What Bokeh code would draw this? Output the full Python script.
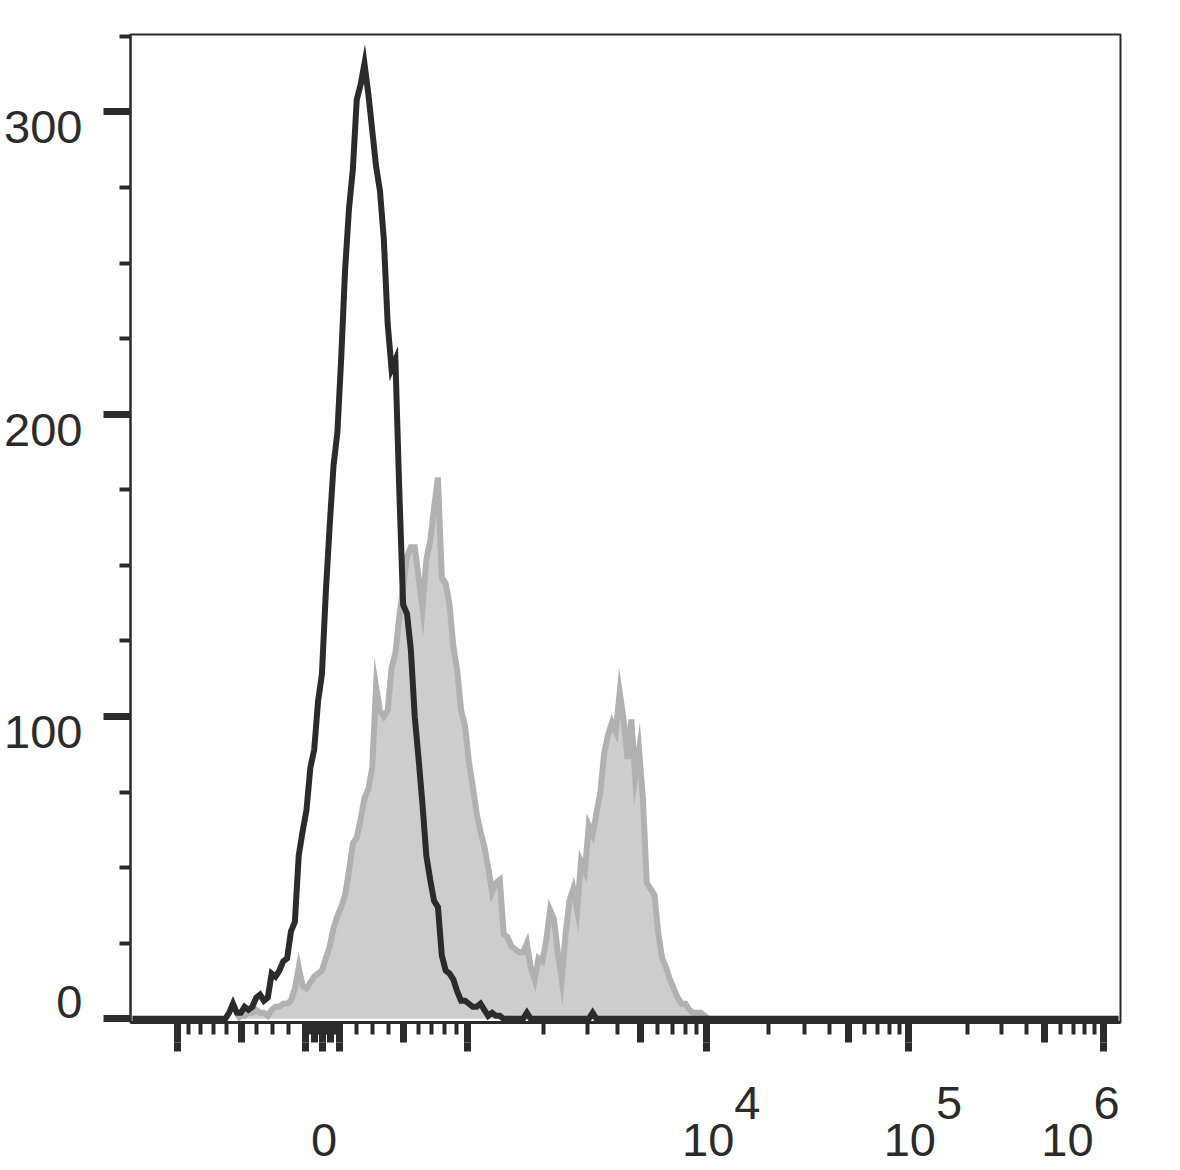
import numpy as np
from bokeh.plotting import figure
from bokeh.models import LinearAxis, FixedTicker, Range1d, CustomJSTickFormatter
from bokeh.embed import file_html
from bokeh.resources import INLINE

# ---------------- data ----------------
n_channels = 256

# control histogram (black line), counts per channel
black_first_channel = 24
black_counts = [0, 2, 5, 2, 2, 4, 3, 4, 7, 8, 6, 7, 15, 14, 16, 19, 20, 29, 32, 54,
                62, 69, 83, 89, 105, 114, 141, 163, 183, 194, 219, 248, 268, 281, 304, 309,
                316, 306, 294, 282, 274, 258, 230, 215, 218, 175, 137, 134, 122, 100,
                86, 71, 54, 46, 39, 37, 21, 16, 15, 13, 9, 6, 6, 5, 4, 4, 5, 3, 1, 2,
                1, 1, 0, 0, 0, 0, 0, 0, 2, 0, 0, 0, 0, 0, 0, 0, 0, 0, 0, 0, 0, 0, 0, 0,
                0, 2, 0]

# stained histogram (grey filled), counts per channel
gray_first_channel = 27
gray_counts = [0, 1, 1, 2, 2, 3, 2, 2, 1, 3, 4, 4, 5, 5, 6, 10, 17, 11, 10, 12,
               14, 15, 16, 20, 24, 30, 34, 37, 41, 49, 58, 60, 66, 73, 76, 83, 110, 102, 100, 102,
               116, 121, 133, 143, 153, 156, 156, 146, 136, 152, 158, 169, 179, 146, 144, 137, 123, 115, 102, 97,
               85, 77, 68, 62, 57, 50, 42, 45, 46, 28, 27, 24, 23, 22, 22, 25, 17, 13, 20, 19,
               26, 36, 33, 22, 13, 28, 39, 43, 36, 52, 49, 64, 61, 68, 75, 88, 94, 98, 95, 108,
               99, 86, 99, 80, 89, 73, 45, 43, 41, 28, 20, 17, 13, 10, 7, 5, 5, 3, 2, 2,
               2, 1, 0]

# axis ticks and labels
y_tick_values = [0, 100, 200, 300]
y_tick_labels = ["0", "100", "200", "300"]
y_minor_values = [25, 50, 75, 125, 150, 175, 225, 250, 275, 325]

x_major_values = [-1000, -100, 0, 100, 1000, 1e4, 1e5, 1e6]
x_medium_values = [-500, -50, 50, 500, 5000, 5e4, 5e5]
x_minor_values = ([-k * 100 for k in (9, 8, 7, 6, 4, 3, 2)] + [-k * 10 for k in (9, 8, 7, 6, 4, 3, 2, 1)]
                  + [k * 10 for k in (1, 2, 3, 4, 6, 7, 8, 9)] + [k * 100 for k in (2, 3, 4, 6, 7, 8, 9)]
                  + [k * 1000 for k in (2, 3, 4, 6, 7, 8, 9)] + [k * 10000 for k in (2, 3, 4, 6, 7, 8, 9)]
                  + [k * 100000 for k in (2, 3, 4, 6, 7, 8, 9)])
x_label_values = [0, 1e4, 1e5, 1e6]
x_label_base = ["0", "10", "10", "10"]
x_label_exp = ["", "4", "5", "6"]

# ---------------- biexponential display scale ----------------
ZERO_CH = 49.65
CH_PER_UNIT = 21.8
BIEX_A = 94.7
BIEX_P = 4.24


def biex_forward(d):
    pp = BIEX_P * BIEX_P
    return BIEX_A * (np.exp(d) - pp * np.exp(-d / BIEX_P) + pp - 1.0)


def to_channel(v):
    s = np.sign(v)
    a = abs(v)
    lo, hi = 0.0, 20.0
    for _ in range(80):
        mid = 0.5 * (lo + hi)
        if biex_forward(mid) < a:
            lo = mid
        else:
            hi = mid
    return float(ZERO_CH + CH_PER_UNIT * s * 0.5 * (lo + hi))


black = np.zeros(n_channels)
black[black_first_channel:black_first_channel + len(black_counts)] = black_counts
xs_black = np.arange(n_channels) + 0.5
gray = np.array(gray_counts, dtype=float)
xs_gray = np.arange(gray_first_channel, gray_first_channel + len(gray_counts)) + 0.5

# ---------------- figure ----------------
INK = "#2b2b2b"
FONT = "Liberation Sans"
FSIZE = "47px"
Y_START, Y_END = -1.2, 325.6
W, H = 1172, 1170
BL, BR, BT, BB = 130, 52, 34, 148
PX_X = (W - BL - BR) / n_channels          # screen px per channel
PX_Y = (H - BT - BB) / (Y_END - Y_START)   # screen px per count

p = figure(width=W, height=H, x_range=Range1d(0, n_channels), y_range=Range1d(Y_START, Y_END),
           output_backend="svg", toolbar_location=None,
           min_border_left=BL, min_border_right=BR, min_border_top=BT, min_border_bottom=BB)
p.grid.visible = False
p.background_fill_color = "white"
p.border_fill_color = "white"
p.outline_line_color = INK
p.outline_line_width = 2


def style_ticks(ax, out, width, minor_out=0, minor_width=1):
    ax.formatter = CustomJSTickFormatter(code="return ''")
    ax.major_label_text_font_size = "0px"
    ax.major_label_standoff = 0
    ax.major_tick_in = 0
    ax.major_tick_out = out
    ax.major_tick_line_width = width
    ax.major_tick_line_color = INK
    ax.minor_tick_in = 0
    ax.minor_tick_out = minor_out
    ax.minor_tick_line_width = minor_width
    ax.minor_tick_line_color = INK if minor_out else None


# x axis: long + medium ticks (first 20 px), short minor ticks
xa = p.xaxis[0]
xa.ticker = FixedTicker(ticks=sorted(to_channel(v) for v in x_major_values + x_medium_values),
                        minor_ticks=[to_channel(v) for v in x_minor_values])
style_ticks(xa, 20, 7, 12, 4)
xa.axis_line_color = INK
xa.axis_line_width = 3

# extension of the long ticks
xa_long = LinearAxis(ticker=FixedTicker(ticks=[to_channel(v) for v in x_major_values], minor_ticks=[]),
                     axis_line_color=None)
style_ticks(xa_long, 9, 7)
p.add_layout(xa_long, "below")

# y axis ticks
ya = p.yaxis[0]
ya.ticker = FixedTicker(ticks=y_tick_values, minor_ticks=y_minor_values)
style_ticks(ya, 27, 7, 11, 4)
ya.axis_line_color = INK
ya.axis_line_width = 2


def label_axis(ticks, labels, standoff, side, **extra):
    ax = LinearAxis(ticker=FixedTicker(ticks=ticks, minor_ticks=[]),
                    formatter=CustomJSTickFormatter(args=dict(labels=labels), code="return labels[index]"),
                    axis_line_color=None,
                    major_tick_line_color=None, major_tick_in=0, major_tick_out=0,
                    minor_tick_line_color=None, minor_tick_in=0, minor_tick_out=0,
                    major_label_standoff=standoff, major_label_text_font=FONT,
                    major_label_text_font_size=FSIZE, major_label_text_color=INK, **extra)
    p.add_layout(ax, side)
    return ax


# y tick labels (shifted in screen px like the reference)
y_label_shift_px = [16.5, -15.5, -15.5, -15.5]
label_axis([v + s / PX_Y for v, s in zip(y_tick_values, y_label_shift_px)], y_tick_labels, 21, "left")

# x tick labels: exponent on first line (pushed right with no-break spaces), base on second
base_shift_px = [1.5, 2, 1.5, -36]
NB = "\u00a0"
x_texts = [(NB * 6 + e if e else NB) + "\n" + b for b, e in zip(x_label_base, x_label_exp)]
label_axis([to_channel(v) + s / PX_X for v, s in zip(x_label_values, base_shift_px)], x_texts, 24, "below",
           major_label_text_line_height=0.705)

# histograms
p.varea(x=xs_gray, y1=np.zeros(len(gray)), y2=gray, fill_color="#cdcdcd")
p.line(xs_gray, gray, line_color="#b1b1b1", line_width=6, line_join="miter")
p.line(xs_black, black, line_color=INK, line_width=6, line_join="miter")

open("out.html", "w").write(file_html(p, INLINE))
